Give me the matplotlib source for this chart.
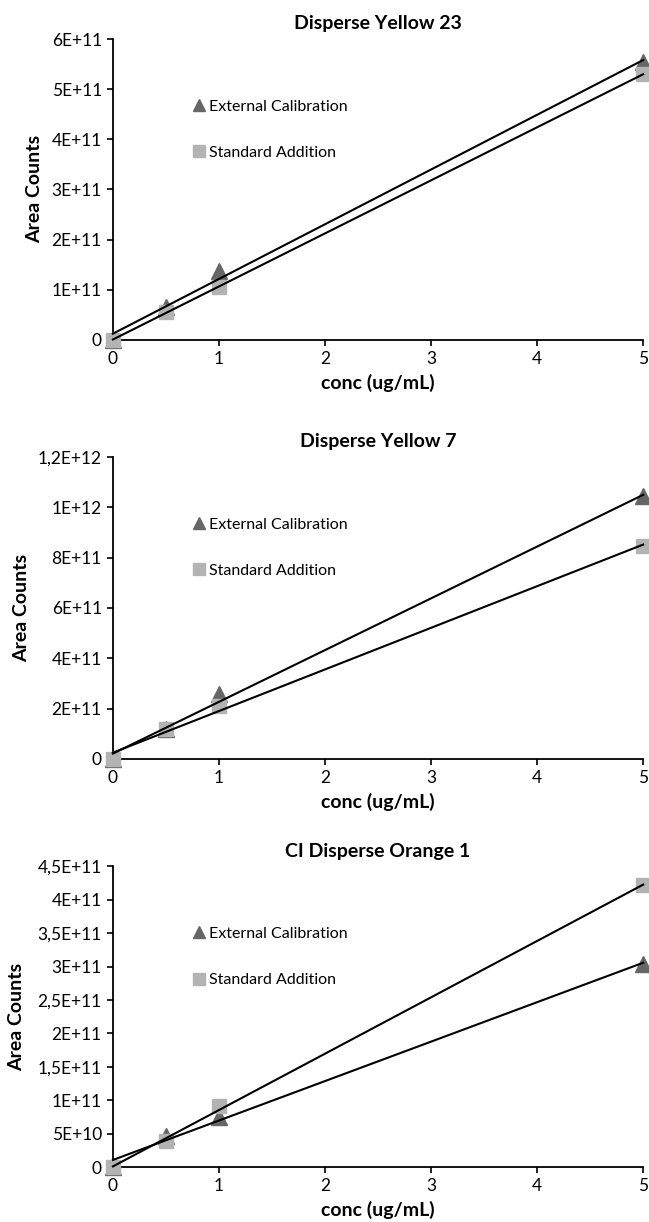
import numpy as np
import matplotlib
matplotlib.use("Agg")
import matplotlib.pyplot as plt

plt.rcParams['font.family'] = ['Lato', 'DejaVu Sans']

# concentrations (ug/mL)
conc = [0, 0.5, 1, 5]

titles = ["Disperse Yellow 23", "Disperse Yellow 7", "CI Disperse Orange 1"]

# area counts
ext_dy23 = [0, 6.5e10, 1.38e11, 5.55e11]
std_dy23 = [0, 5.5e10, 1.05e11, 5.30e11]

ext_dy7 = [0, 1.20e11, 2.57e11, 1.044e12]
std_dy7 = [0, 1.17e11, 2.10e11, 8.47e11]

ext_do1 = [0, 4.7e10, 7.5e10, 3.04e11]
std_do1 = [0, 3.9e10, 9.1e10, 4.22e11]

yticks_dy23 = [0, 1e11, 2e11, 3e11, 4e11, 5e11, 6e11]
ylabels_dy23 = ["0", "1E+11", "2E+11", "3E+11", "4E+11", "5E+11", "6E+11"]

yticks_dy7 = [0, 2e11, 4e11, 6e11, 8e11, 1e12, 1.2e12]
ylabels_dy7 = ["0", "2E+11", "4E+11", "6E+11", "8E+11", "1E+12", "1,2E+12"]

yticks_do1 = [0, 5e10, 1e11, 1.5e11, 2e11, 2.5e11, 3e11, 3.5e11, 4e11, 4.5e11]
ylabels_do1 = ["0", "5E+10", "1E+11", "1,5E+11", "2E+11", "2,5E+11", "3E+11",
               "3,5E+11", "4E+11", "4,5E+11"]

panels = [
    (ext_dy23, std_dy23, yticks_dy23, ylabels_dy23),
    (ext_dy7, std_dy7, yticks_dy7, ylabels_dy7),
    (ext_do1, std_do1, yticks_do1, ylabels_do1),
]

ext_color = '#666666'
std_color = '#b3b3b3'

fig = plt.figure(figsize = (6.49, 12.22), dpi = 100)

# axes boxes in figure fractions: left, bottom, width, height
boxes = [
    [0.174, 0.722, 0.817, 0.246],
    [0.174, 0.379, 0.817, 0.247],
    [0.174, 0.045, 0.817, 0.246],
]
# where the y label sits, per panel (axes fraction)
ylabel_x = [-0.132, -0.157, -0.166]

for i, (ext, std, yt, yl) in enumerate(panels):
    ax = fig.add_axes(boxes[i])

    # linear trend lines
    x = np.array(conc)
    xx = np.array([0, 5])
    for y in (ext, std):
        k, b = np.polyfit(x, np.array(y), 1)
        ax.plot(xx, k * xx + b, color = 'black', lw = 1.5, zorder = 5, clip_on = False)

    ax.plot(conc, ext, ls = 'none', marker = '^', ms = 11, color = ext_color,
            mec = ext_color, label = 'External Calibration', zorder = 3, clip_on = False)
    ax.plot(conc, std, ls = 'none', marker = 's', ms = 10, color = std_color,
            mec = std_color, label = 'Standard Addition', zorder = 4, clip_on = False)

    ax.set_xlim(0, 5)
    ax.set_ylim(yt[0], yt[-1])
    ax.set_xticks([0, 1, 2, 3, 4, 5])
    ax.set_yticks(yt)
    ax.set_yticklabels(yl)

    for s in ('top', 'right'):
        ax.spines[s].set_visible(False)
    for s in ('left', 'bottom'):
        ax.spines[s].set_linewidth(1.3)
    ax.tick_params(direction = 'out', length = 4, width = 1.2, labelsize = 12.5,
                   colors = 'black', pad = 4)

    ax.set_title(titles[i], fontsize = 14, fontweight = 'bold', pad = 7)
    ax.set_xlabel('conc (ug/mL)', fontsize = 14, fontweight = 'bold', labelpad = 5)
    ax.set_ylabel('Area Counts', fontsize = 14, fontweight = 'bold')
    ax.yaxis.set_label_coords(ylabel_x[i], 0.5)

    ax.legend(loc = 'upper left', bbox_to_anchor = (0.14, 0.82), frameon = False,
              fontsize = 11.5, handlelength = 0.7, handletextpad = 0.25,
              labelspacing = 2.0, borderaxespad = 0, markerscale = 0.8)

fig.savefig('out.png', dpi = 100)
